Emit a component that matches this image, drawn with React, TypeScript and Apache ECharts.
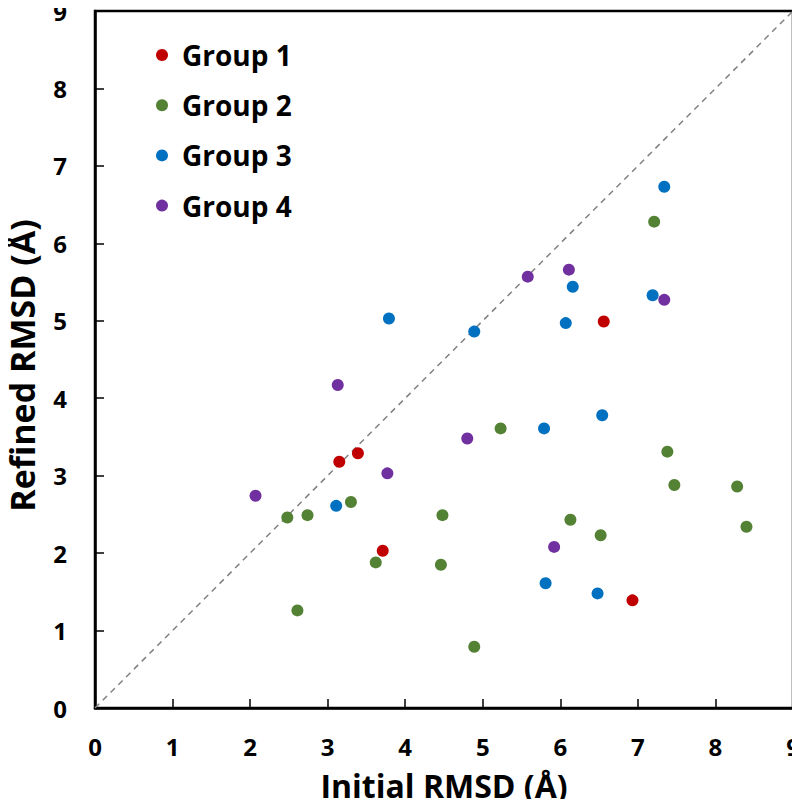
import React, { useEffect, useRef } from "react";
import * as echarts from "echarts";

const groupNames = ["Group 1", "Group 2", "Group 3", "Group 4"];
const groupColors = ["#C00000", "#548235", "#0070C0", "#7030A0"];

const group1: [number, number][] = [
  [3.15, 3.18], [3.39, 3.29], [3.71, 2.03], [6.56, 4.99], [6.93, 1.39],
];
const group2: [number, number][] = [
  [7.21, 6.28], [3.30, 2.66], [2.48, 2.46], [2.74, 2.49], [3.62, 1.88],
  [2.61, 1.26], [5.23, 3.61], [7.38, 3.31], [7.47, 2.88], [8.28, 2.86],
  [4.48, 2.49], [6.13, 2.43], [8.40, 2.34], [6.52, 2.23], [4.46, 1.85],
  [4.89, 0.79],
];
const group3: [number, number][] = [
  [3.79, 5.03], [7.34, 6.73], [6.16, 5.44], [7.19, 5.33], [6.07, 4.97],
  [4.89, 4.86], [3.11, 2.61], [6.54, 3.78], [5.79, 3.61], [5.81, 1.61],
  [6.48, 1.48],
];
const group4: [number, number][] = [
  [3.13, 4.17], [6.11, 5.66], [5.58, 5.57], [7.34, 5.27], [3.77, 3.03],
  [2.07, 2.74], [4.80, 3.48], [5.92, 2.08],
];
const diagonal: [number, number][] = [[0, 0], [9, 9]];

const FONT = "'Open Sans', 'Noto Sans', sans-serif";

export default function App() {
  const ref = useRef<HTMLDivElement>(null);
  useEffect(() => {
    if (!ref.current) return;
    const chart = echarts.init(ref.current, undefined, { renderer: "svg" });
    const groups = [group1, group2, group3, group4];
    const axisCommon = {
      type: "value" as const,
      min: 0,
      max: 9,
      interval: 1,
      axisLine: { show: true, lineStyle: { color: "#000", width: 2.5 } },
      axisTick: { show: true, inside: true, length: 9, lineStyle: { color: "#000", width: 1.5 } },
      splitLine: { show: false },
      nameLocation: "middle" as const,
    };
    const labelStyle = { fontFamily: FONT, fontWeight: "bold" as const, fontSize: 24, lineHeight: 18, color: "#000" };
    chart.setOption({
      animation: false,
      backgroundColor: "#fff",
      grid: {
        left: 95, top: 11, right: 7, bottom: 99,
        outerBoundsMode: "none",
        containLabel: false,
        show: true, borderColor: "#000", borderWidth: 2.5,
      },
      legend: {
        data: groupNames,
        orient: "vertical",
        left: 151,
        top: 35,
        icon: "circle",
        itemWidth: 30,
        itemHeight: 12,
        itemGap: 20.2,
        textStyle: { fontFamily: FONT, fontWeight: "bold", fontSize: 28, color: "#000", lineHeight: 30 },
      },
      xAxis: {
        ...axisCommon,
        name: "Initial RMSD (Å)",
        nameGap: 61,
        nameTextStyle: { fontFamily: FONT, fontWeight: "bold", fontSize: 32, color: "#000" },
        axisLabel: { ...labelStyle, margin: 29 },
      },
      yAxis: {
        ...axisCommon,
        name: "Refined RMSD (Å)",
        nameGap: 56,
        nameTextStyle: { fontFamily: FONT, fontWeight: "bold", fontSize: 34, color: "#000", padding: [0, 12, 0, 0] },
        axisLabel: { ...labelStyle, margin: 28, padding: [4, 0, 0, 0] },
      },
      series: [
        {
          type: "line",
          data: diagonal,
          symbol: "none",
          silent: true,
          lineStyle: { color: "#808080", width: 1.5, type: [6, 5] },
          z: 1,
        },
        ...groups.map((g, i) => ({
          type: "scatter",
          name: groupNames[i],
          data: g,
          symbol: "circle",
          symbolSize: 12,
          itemStyle: { color: groupColors[i], opacity: 1 },
          z: 3,
        })),
      ],
    });
    return () => chart.dispose();
  }, []);
  return <div ref={ref} style={{ width: 800, height: 807, margin: -8 }} />;
}
